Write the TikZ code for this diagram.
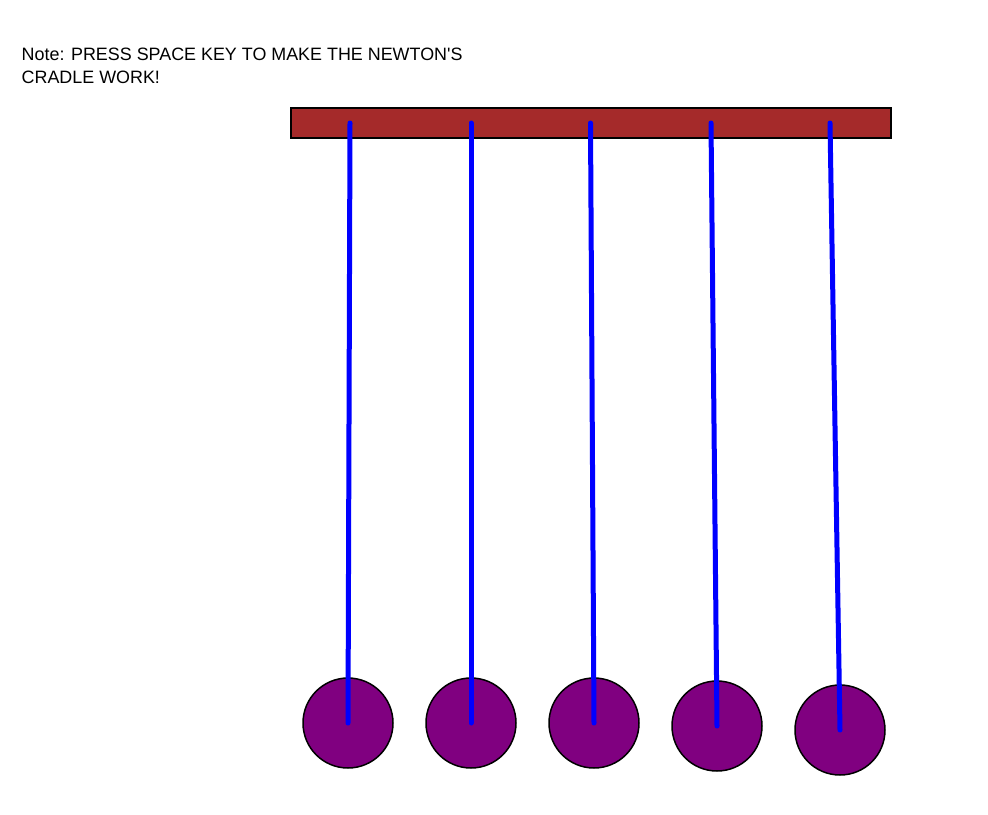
\documentclass[tikz,border=0pt]{standalone}
\usepackage{fontspec}
\setmainfont{Liberation Sans}
\definecolor{barbrown}{RGB}{165,42,42}
\definecolor{ballpurple}{RGB}{128,0,128}
\definecolor{rodblue}{RGB}{0,0,255}
\usetikzlibrary{positioning}

\tikzset{
    ball/.style={circle, draw=black, line width=1.5pt, fill=ballpurple, minimum size=90pt, inner sep=0pt},
    rod/.style={rodblue, line width=5pt, line cap=round}
}

\begin{document}
\begin{tikzpicture}[x=1pt, y=-1pt]
    \useasboundingbox (0,0) rectangle (988,814);

    % Note
    \node[anchor=north west, align=left, inner sep=0pt, font=\fontsize{17.9}{22.3}\selectfont] (note) at (21.5,48)
        {Note: PRESS SPACE KEY TO MAKE THE NEWTON\textquotesingle S\\CRADLE WORK!};

    % Frame bar
    \node[draw=black, line width=1.5pt, fill=barbrown, minimum width=600pt, minimum height=30pt, inner sep=0pt] (bar) at (591,123) {};

    % Pivots
    \coordinate (piv1) at (350,123);
    \coordinate (piv2) at (471,123);
    \coordinate (piv3) at (590.5,123);
    \coordinate (piv4) at (711,123);
    \coordinate (piv5) at (830,123);

    % Balls
    \node[ball] (ball1) at (348,723) {};
    \node[ball] (ball2) at (471,723) {};
    \node[ball] (ball3) at (594,723) {};
    \node[ball] (ball4) at (717,726) {};
    \node[ball] (ball5) at (840,730) {};

    % Rods
    \foreach \i in {1,...,5}
        \draw[rod] (piv\i) -- (ball\i.center);
\end{tikzpicture}
\end{document}
